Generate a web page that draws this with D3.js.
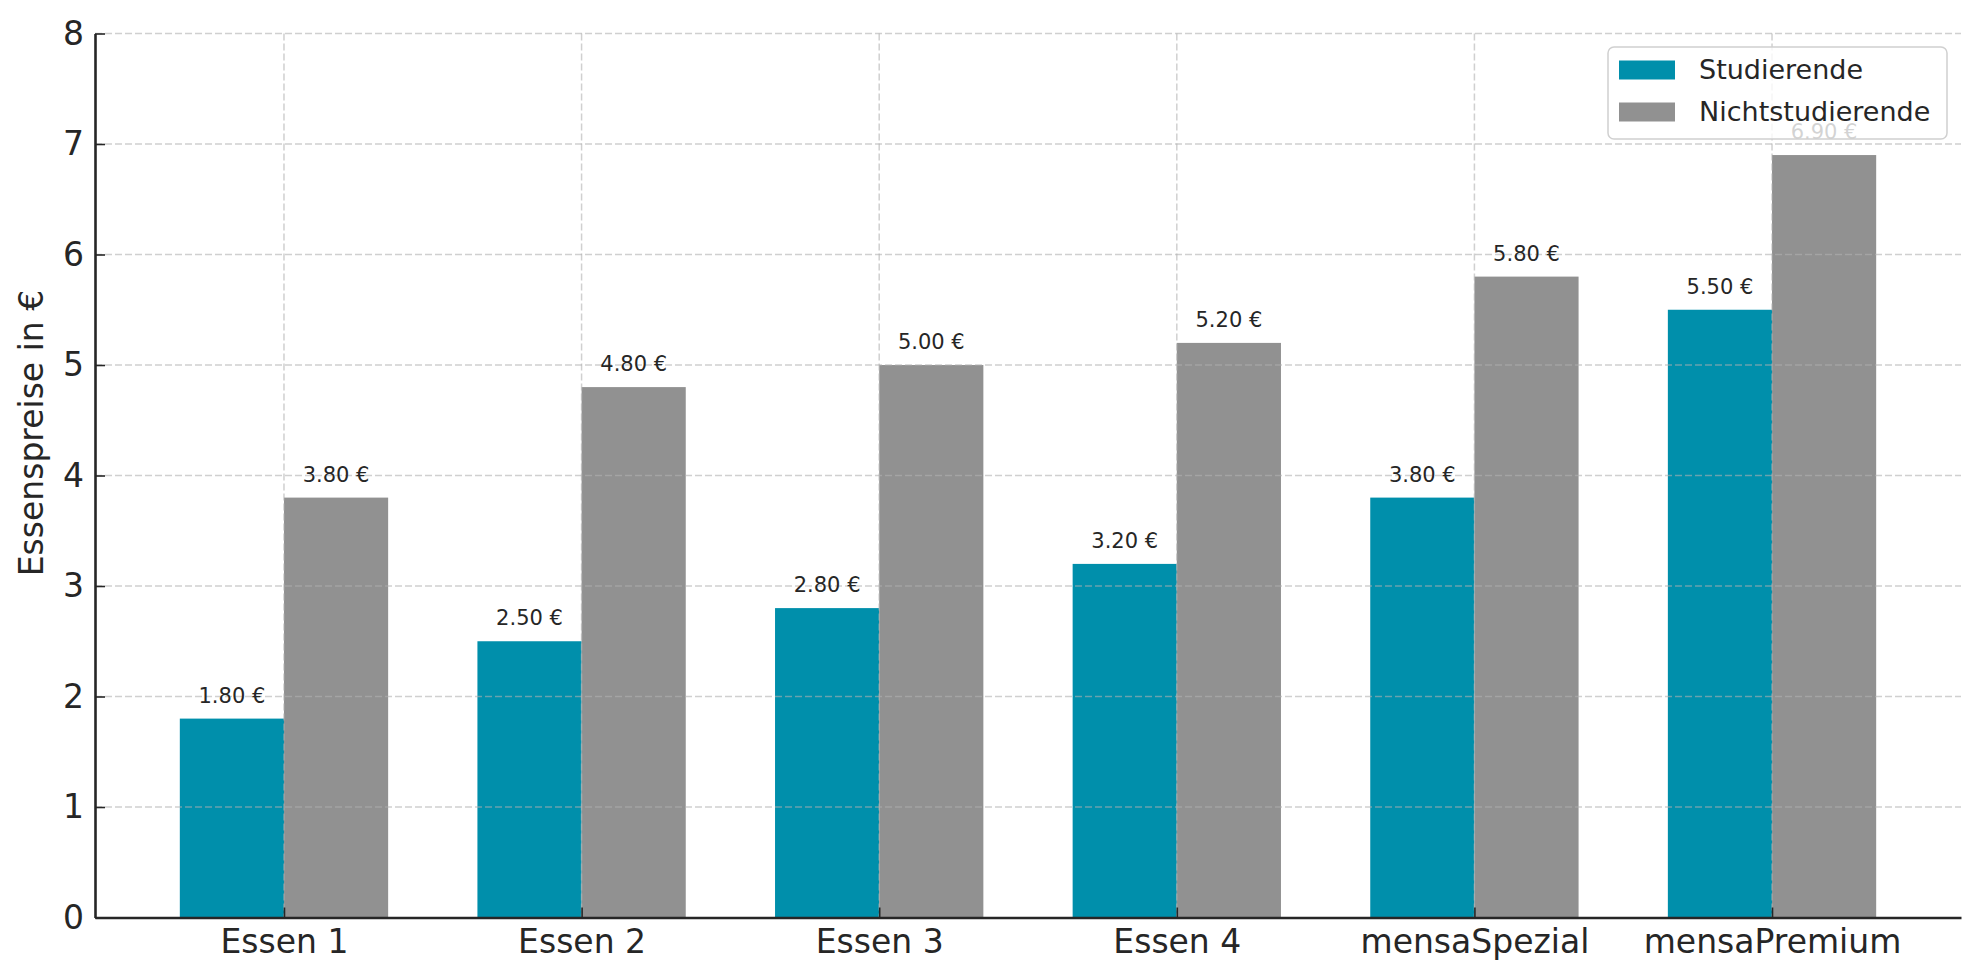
<!DOCTYPE html>
<meta charset="utf-8">
<style>
body { margin: 0; background: #fff; }
text { font-family: "DejaVu Sans", sans-serif; fill: #262626; }
.axis path, .axis line { stroke: #262626; }
.grid line { stroke: #b0b0b0; stroke-opacity: 0.6; stroke-dasharray: 7,3; stroke-width: 1.5; }
</style>
<svg width="1980" height="980"></svg>
<script src="https://d3js.org/d3.v7.min.js"></script>
<script>

// data
var categories = ["Essen 1", "Essen 2", "Essen 3", "Essen 4", "mensaSpezial", "mensaPremium"];
var studierende = [1.80, 2.50, 2.80, 3.20, 3.80, 5.50];
var nichtstudierende = [3.80, 4.80, 5.00, 5.20, 5.80, 6.90];
var seriesNames = ["Studierende", "Nichtstudierende"];
var seriesColors = ["#008fab", "#919191"];
var yTicks = [0, 1, 2, 3, 4, 5, 6, 7, 8];

var svg = d3.select("svg"),
    plotLeft = 95, plotRight = 1961, plotTop = 33.5, plotBottom = 917.5,
    barW = 0.35;

var x = d3.scaleLinear().domain([-0.635, categories.length - 1 + 0.635]).range([plotLeft, plotRight]);
var y = d3.scaleLinear().domain([0, 8]).range([plotBottom, plotTop]);

var series = [studierende, nichtstudierende];

// bars
series.forEach(function(vals, s) {
  var off = s === 0 ? -barW : 0;
  svg.append("g").selectAll("rect")
    .data(vals)
    .enter().append("rect")
      .attr("x", function(d, i) { return x(i + off); })
      .attr("width", x(barW) - x(0))
      .attr("y", function(d) { return y(d); })
      .attr("height", function(d) { return y(0) - y(d); })
      .attr("fill", seriesColors[s]);
});

// grid (drawn over bars like the original)
var grid = svg.append("g").attr("class", "grid");
grid.selectAll(".h").data(yTicks.slice(1)).enter().append("line")
    .attr("x1", plotLeft).attr("x2", plotRight)
    .attr("y1", function(d) { return y(d); }).attr("y2", function(d) { return y(d); });
grid.selectAll(".v").data(d3.range(categories.length)).enter().append("line")
    .attr("x1", function(d) { return x(d); }).attr("x2", function(d) { return x(d); })
    .attr("y1", plotTop).attr("y2", plotBottom);

// value labels
series.forEach(function(vals, s) {
  var off = s === 0 ? -barW / 2 : barW / 2;
  svg.append("g").selectAll("text")
    .data(vals)
    .enter().append("text")
      .attr("x", function(d, i) { return x(i + off); })
      .attr("y", function(d) { return y(d) - 16; })
      .attr("text-anchor", "middle")
      .style("font-size", "21px")
      .text(function(d) { return d.toFixed(2) + " €"; });
});

// axes
var yAxis = svg.append("g").attr("class", "axis")
    .attr("transform", "translate(" + plotLeft + ",0)")
    .call(d3.axisLeft(y).tickValues(yTicks).tickSizeInner(-10).tickSizeOuter(0).tickPadding(11));
yAxis.selectAll("text").style("font-size", "33px");

var xAxis = svg.append("g").attr("class", "axis")
    .attr("transform", "translate(0," + plotBottom + ")")
    .call(d3.axisBottom(x).tickValues(d3.range(categories.length))
      .tickFormat(function(i) { return categories[i]; })
      .tickSizeInner(-10).tickSizeOuter(0).tickPadding(12));
xAxis.selectAll("text").style("font-size", "33px");

svg.selectAll(".axis path").attr("stroke-width", 2.6);
svg.selectAll(".axis line").attr("stroke-width", 1.6);

// y label
svg.append("text")
    .attr("transform", "translate(43,433) rotate(-90)")
    .attr("text-anchor", "middle")
    .style("font-size", "33px")
    .text("Essenspreise in €");

// legend (semi-opaque, sits over the 6.90 label as in the original)
var lg = svg.append("g").attr("transform", "translate(1608,47)");
lg.append("rect")
    .attr("width", 339).attr("height", 92)
    .attr("rx", 6)
    .attr("fill", "#fff").attr("fill-opacity", 0.8)
    .attr("stroke", "#d0d0d0").attr("stroke-width", 1.5);
seriesNames.forEach(function(name, s) {
  var cy = 23 + s * 42;
  lg.append("rect")
      .attr("x", 11).attr("y", cy - 9.5)
      .attr("width", 56).attr("height", 19)
      .attr("fill", seriesColors[s]);
  lg.append("text")
      .attr("x", 91).attr("y", cy).attr("dy", "0.35em")
      .style("font-size", "27px")
      .text(name);
});

</script>
